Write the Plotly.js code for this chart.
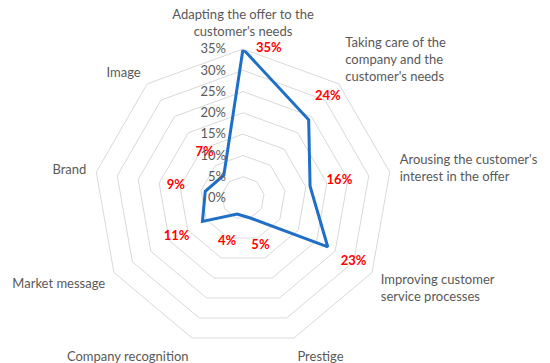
<!DOCTYPE html>
<html><head><meta charset="utf-8">
<script src="https://cdn.plot.ly/plotly-3.0.1.min.js"></script>
<style>html,body{margin:0;padding:0;background:#fff}#chart{width:550px;height:363px}</style>
</head><body><div id="chart"></div>
<script>
const categories = [
  "Adapting the offer to the<br>customer's needs",
  "Taking care of the<br>company and the<br>customer's needs",
  "Arousing the customer's<br>interest in the offer",
  "Improving customer<br>service processes",
  "Prestige",
  "Company recognition",
  "Market message",
  "Brand",
  "Image"
];
const values = [35, 24, 16, 23, 5, 4, 11, 9, 7];
const radialTicks = [0, 5, 10, 15, 20, 25, 30, 35];
const radialTickLabels = ["0%", "5%", "10%", "15%", "20%", "25%", "30%", "35%"];

const AXIS_MAX = 35;
const LABEL_PAD = 7; // radial distance of value labels beyond their point, in axis units

const theta = categories.concat([categories[0]]);
const lineTrace = {
  type: 'scatterpolar',
  r: values.concat([values[0]]),
  theta: theta,
  mode: 'lines',
  line: {color: '#1f6fc6', width: 3},
  hoverinfo: 'skip'
};
const fitsOutside = values.map(v => v + LABEL_PAD <= AXIS_MAX);
const labelTrace = {
  type: 'scatterpolar',
  r: values.map((v, i) => fitsOutside[i] ? v + LABEL_PAD : v),
  theta: categories,
  mode: 'text',
  text: values.map((v, i) => (fitsOutside[i] ? '' : '\u2002\u2002') + v + '%'),
  textposition: fitsOutside.map(f => f ? 'middle center' : 'middle right'),
  textfont: {family: 'Lato, sans-serif', size: 13, color: '#ff0000', weight: 'bold'},
  cliponaxis: false,
  hoverinfo: 'skip'
};
const layout = {
  width: 550, height: 363,
  margin: {l: 0, r: 0, t: 0, b: 0},
  paper_bgcolor: '#fff',
  showlegend: false,
  font: {family: 'Lato, sans-serif', size: 13, color: '#595959'},
  polar: {
    domain: {x: [94/550, 392/550], y: [16/363, 314/363]},
    gridshape: 'linear',
    bgcolor: 'rgba(0,0,0,0)',
    radialaxis: {
      range: [0, AXIS_MAX], tickvals: radialTicks, ticktext: radialTickLabels,
      angle: 90, tickangle: 90, side: 'counterclockwise',
      showline: false, gridcolor: '#d9d9d9', gridwidth: 1,
      ticks: 'outside', ticklen: 12, tickcolor: 'rgba(0,0,0,0)',
      tickfont: {size: 13, color: '#595959'}
    },
    angularaxis: {
      direction: 'clockwise', rotation: 90,
      showgrid: false, linecolor: '#d9d9d9', linewidth: 1,
      ticks: 'outside', ticklen: 7, tickcolor: 'rgba(0,0,0,0)',
      tickfont: {size: 13, color: '#595959'}
    }
  }
};
Plotly.newPlot('chart', [lineTrace, labelTrace], layout, {staticPlot: true});
</script></body></html>
